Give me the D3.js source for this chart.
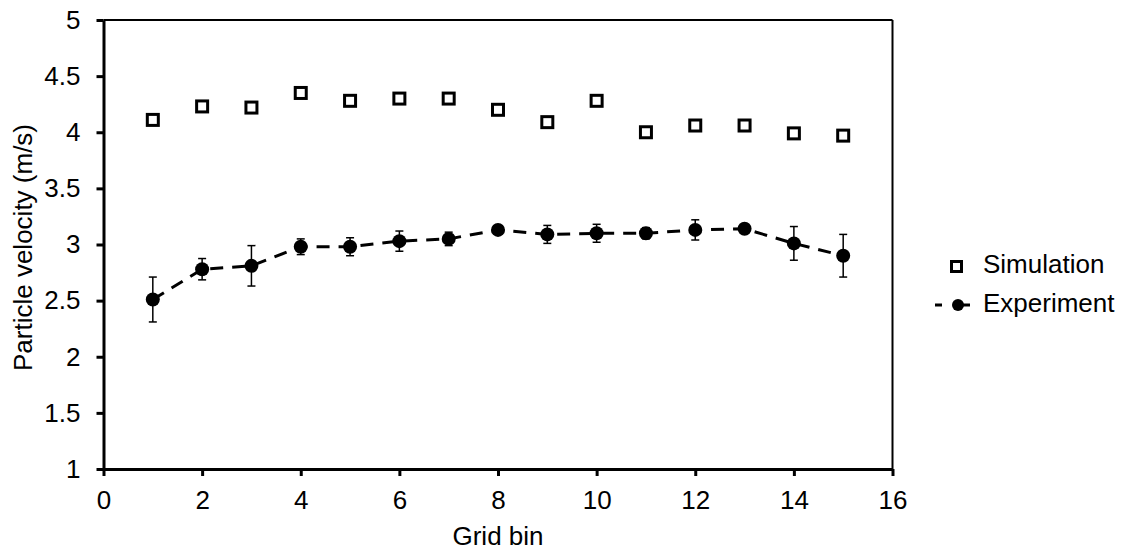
<!DOCTYPE html>
<html><head><meta charset="utf-8">
<script src="https://cdn.jsdelivr.net/npm/d3@7"></script>
<style>body{margin:0;background:#fff}svg{display:block}text{font-family:"Liberation Sans",Arial,sans-serif;fill:#000}</style>
</head><body><svg id="c" width="1129" height="553"></svg>
<script>
const bins = [1,2,3,4,5,6,7,8,9,10,11,12,13,14,15];
const simulation = [4.11,4.23,4.22,4.35,4.28,4.30,4.30,4.20,4.09,4.28,4.00,4.06,4.06,3.99,3.97];
const experiment = [2.51,2.78,2.81,2.98,2.98,3.03,3.05,3.13,3.09,3.10,3.10,3.13,3.14,3.01,2.90];
const expError = [0.20,0.095,0.18,0.07,0.08,0.09,0.06,0.03,0.08,0.08,0.05,0.09,0.04,0.15,0.19];
const xTicks = [0,2,4,6,8,10,12,14,16];
const yTicks = [1,1.5,2,2.5,3,3.5,4,4.5,5];

const FS = 26;
const svg = d3.select("#c");
const L=103.5, R=892.5, T=20, B=469;
const x = d3.scaleLinear().domain([0,16]).range([L,R]);
const y = d3.scaleLinear().domain([1,5]).range([B,T]);

// frame
svg.append("line").attr("x1",L).attr("x2",R).attr("y1",T).attr("y2",T).attr("stroke","#000").attr("stroke-width",2);
svg.append("line").attr("x1",R).attr("x2",R).attr("y1",T).attr("y2",B).attr("stroke","#000").attr("stroke-width",2);

const xa = svg.append("g").attr("transform",`translate(0,${B})`)
  .call(d3.axisBottom(x).tickValues(xTicks).tickSize(7).tickSizeOuter(0).tickPadding(15));
const ya = svg.append("g").attr("transform",`translate(${L},0)`)
  .call(d3.axisLeft(y).tickValues(yTicks).tickSize(7).tickSizeOuter(0).tickPadding(16).tickFormat(d=>d3.format("")(d)));
[xa,ya].forEach(a=>{
  a.select(".domain").attr("stroke","#000").attr("stroke-width",3);
  a.selectAll(".tick line").attr("stroke","#000").attr("stroke-width",3);
  a.selectAll(".tick text").attr("font-size",FS).attr("fill","#000").attr("font-family","Liberation Sans, Arial, sans-serif");
});

svg.append("text").attr("x",(L+R)/2).attr("y",545).attr("text-anchor","middle").attr("font-size",FS).text("Grid bin");
svg.append("text").attr("transform",`translate(32,${(T+B)/2 + 3}) rotate(-90)`).attr("text-anchor","middle").attr("font-size",FS).text("Particle velocity (m/s)");

// experiment dashed line
const line = d3.line().x((d,i)=>x(bins[i])).y(d=>y(d));
svg.append("path").datum(experiment).attr("d",line).attr("fill","none").attr("stroke","#000").attr("stroke-width",3).attr("stroke-dasharray","13,9");

// error bars
const eb = svg.append("g").attr("stroke","#000").attr("stroke-width",1.5);
bins.forEach((b,i)=>{
  const cx=x(b), y0=y(experiment[i]-expError[i]), y1=y(experiment[i]+expError[i]);
  eb.append("line").attr("x1",cx).attr("x2",cx).attr("y1",y0).attr("y2",y1);
  eb.append("line").attr("x1",cx-4).attr("x2",cx+4).attr("y1",y0).attr("y2",y0);
  eb.append("line").attr("x1",cx-4).attr("x2",cx+4).attr("y1",y1).attr("y2",y1);
});
svg.append("g").selectAll("circle").data(experiment).join("circle")
  .attr("cx",(d,i)=>x(bins[i])).attr("cy",d=>y(d)).attr("r",7).attr("fill","#000");

// simulation squares
const s=11;
svg.append("g").selectAll("rect").data(simulation).join("rect")
  .attr("x",(d,i)=>x(bins[i])-s/2).attr("y",d=>y(d)-s/2).attr("width",s).attr("height",s)
  .attr("fill","#fff").attr("stroke","#000").attr("stroke-width",3);

// legend
const lg = svg.append("g");
lg.append("rect").attr("x",956.5-5).attr("y",266.5-5).attr("width",10).attr("height",10).attr("fill","#fff").attr("stroke","#000").attr("stroke-width",3);
lg.append("text").attr("x",983).attr("y",273).attr("font-size",FS).text("Simulation");
lg.append("line").attr("x1",935).attr("x2",942).attr("y1",305).attr("y2",305).attr("stroke","#000").attr("stroke-width",3);
lg.append("line").attr("x1",955).attr("x2",970).attr("y1",305).attr("y2",305).attr("stroke","#000").attr("stroke-width",3);
lg.append("circle").attr("cx",958).attr("cy",305).attr("r",6).attr("fill","#000");
lg.append("text").attr("x",983).attr("y",312).attr("font-size",FS).text("Experiment");
</script></body></html>
